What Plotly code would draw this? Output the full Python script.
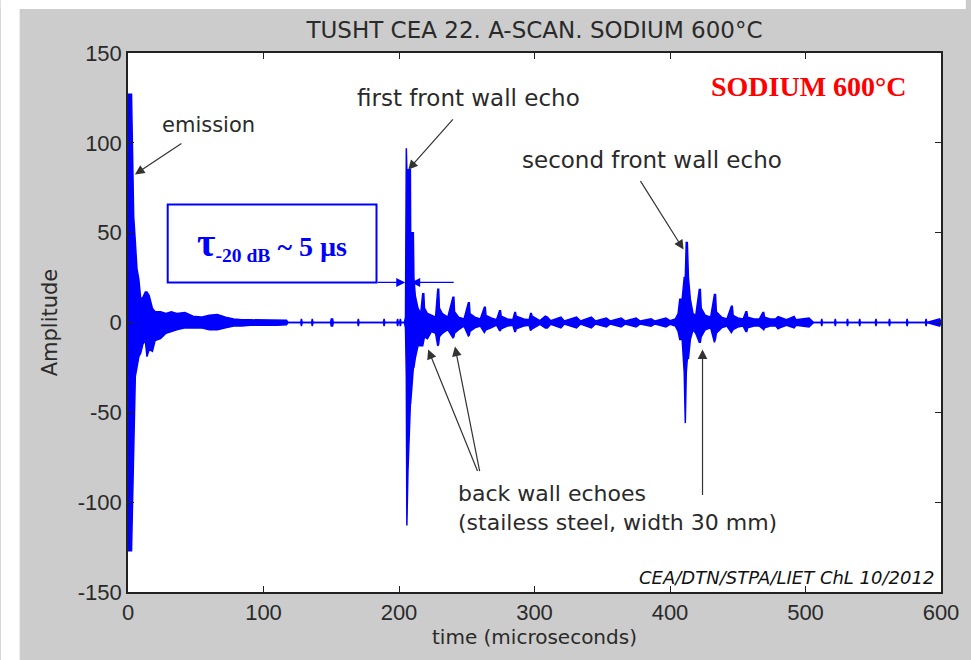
import plotly.graph_objects as go

# ---------------- data ----------------
# A-scan envelope: time (µs), upper and lower amplitude of the trace
time_us = [
    0, 0.2, 2.6, 3.4, 4.2, 5.4, 6.6, 8.0, 9.4, 11, 12.8, 14, 15.6, 18, 20, 24, 28, 32, 36, 42,
    48, 54, 60, 66, 72, 78, 84, 90, 110, 117, 118,
    127.5, 128, 128.5, 135.5, 136, 136.5, 149.5, 150, 151, 151.5, 169.5, 170, 170.5,
    188.5, 189, 189.5, 198.5, 199, 199.5, 200.5, 201, 201.5,
    204, 204.8, 205.4, 205.8, 206.6, 208.4, 208.6, 210.6, 211, 212, 214, 216,
    217.5, 218.3, 218.8, 221, 224, 227,
    228.6, 229.3, 229.8, 232, 236,
    239.8, 240.5, 241, 244, 248,
    251.2, 251.9, 252.4, 256, 260,
    263, 263.7, 264.2, 268, 272,
    274.2, 274.9, 275.4, 280, 284,
    285.4, 286, 286.5, 292, 296,
    297.1, 297.7, 298.3, 304, 308, 309.5, 312,
    319.5, 322, 331, 334, 342, 345, 353, 356, 364, 367, 375, 378, 386, 389, 397, 400, 404,
    406, 407.2, 409, 410.5, 411.3, 412.0, 412.8, 413.6, 415, 417, 419,
    421.6, 422.4, 423, 426, 430,
    432.8, 433.6, 434.2, 438, 442,
    445.3, 446, 446.6, 450, 454,
    456, 456.7, 457.3, 462, 466,
    468.5, 469.2, 469.8, 474, 478,
    479.8, 481, 486, 491.6, 493, 502.6, 504, 506,
    511.5, 512, 512.5, 521.5, 522, 522.5, 530.5, 531, 531.5, 539.5, 540, 540.5,
    551.5, 552, 552.5, 561.5, 562, 562.5, 574.5, 575, 575.5, 588.5, 589, 589.5, 599, 600,
]
upper = [
    0, 127, 127, 100, 59, 45, 30, 24, 13, 14, 17, 17, 15, 8, 6, 6, 5, 6, 5, 5.5,
    3.5, 3, 4, 4.5, 3, 2, 1.5, 1.5, 1.5, 1.2, 0,
    0, 2, 0, 0, 2, 0, 0, 2, 2, 0, 0, 2, 0,
    0, 2, 0, 0, 2, 0, 0, 2, 0,
    0, 3, 97, 85, 85, 85, 50, 50, 25, 15, 8, 5,
    16, 16, 8, 5, 4, 3,
    18.5, 18.5, 8, 5, 3,
    14, 14, 6, 3, 2,
    11, 11, 5, 3, 2,
    8.5, 8.5, 4, 2.5, 1.5,
    6.5, 6.5, 3.5, 2, 1.5,
    5.5, 5.5, 3.5, 2, 1.5,
    5, 5, 3.5, 1, 3.5, 3, 1,
    3, 0.8, 3, 0.8, 3, 0.8, 2.5, 0.8, 2.5, 0.8, 2.5, 0.8, 2, 0.8, 2.5, 1, 2,
    5, 13, 13, 25, 25, 44.5, 44.5, 25, 13, 5, 4,
    18.4, 18.4, 8, 4, 3,
    15.6, 15.6, 6, 3, 2,
    9, 9, 4, 2.5, 2,
    6, 6, 3, 2, 2,
    5.5, 5.5, 3, 2, 2,
    3.3, 3, 1.5, 3.3, 1.5, 2.5, 1.2, 0,
    0, 2, 0, 0, 2, 0, 0, 2, 0, 0, 2, 0,
    0, 2, 0, 0, 2, 0, 0, 2, 0, 0, 2, 0, 2, 0,
]
lower = [
    0, -127, -127, -100, -65, -30, -25, -19, -17, -12, -10, -19, -15, -16, -10, -9, -6, -5, -4, -3,
    -3, -3, -4, -4, -3, -2, -2, -1.5, -1.5, -1.2, 0,
    0, -2, 0, 0, -2, 0, 0, -2, -2, 0, 0, -2, 0,
    0, -2, 0, 0, -2, 0, 0, -2, 0,
    0, -3, -30, -113, -83, -45, -45, -25, -25, -20, -13, -13,
    -13, -10, -8, -9, -5, -6,
    -13, -12, -8, -6, -4,
    -8.5, -8, -6, -4, -2,
    -7.5, -7, -5, -3, -2,
    -5.6, -5, -4, -3, -1.5,
    -4.5, -4.5, -3.5, -2, -1.5,
    -5, -5, -3.5, -2, -1.5,
    -4.5, -4, -3.5, -1, -3, -3, -1,
    -3, -0.8, -3, -0.8, -3, -0.8, -2.5, -0.8, -2.5, -0.8, -2.5, -0.8, -2, -0.8, -2.5, -1, -2,
    -5, -9.5, -9.5, -28, -56, -28, -20, -20, -9.5, -4, -6,
    -11, -11, -8, -4, -3,
    -11, -9, -6, -3, -2,
    -5.6, -5, -4, -2.5, -2,
    -5, -5, -3, -2, -2,
    -4, -4, -3, -2, -2,
    -3.5, -3, -1.5, -3, -1.5, -2.5, -1.2, 0,
    0, -2, 0, 0, -2, 0, 0, -2, 0, 0, -2, 0,
    0, -2, 0, 0, -2, 0, 0, -2, 0, 0, -2, 0, -2, 0,
]

x_ticks = [0, 100, 200, 300, 400, 500, 600]
x_tick_labels = ["0", "100", "200", "300", "400", "500", "600"]
y_ticks = [-150, -100, -50, 0, 50, 100, 150]
y_tick_labels = ["-150", "-100", "-50", "0", "50", "100", "150"]

title_text = "TUSHT CEA 22. A-SCAN. SODIUM 600°C"
x_title = "time (microseconds)"
y_title = "Amplitude"

BLUE = "#0000ff"
TXT = "#2a2a2a"
SANS = "DejaVu Sans"

fig = go.Figure()
fig.add_trace(go.Scatter(x=time_us, y=upper, mode="lines",
                         line=dict(color=BLUE, width=1.5), hoverinfo="skip", showlegend=False))
fig.add_trace(go.Scatter(x=time_us, y=lower, mode="lines", fill="tonexty", fillcolor=BLUE,
                         line=dict(color=BLUE, width=1.5), hoverinfo="skip", showlegend=False))

# plot-area geometry helpers (pixel -> paper)
L, R, T, B = 128, 946, 53, 592
W, H = R - L, B - T
def px(xp):
    return (xp - L) / W
def py(yp):
    return (B - yp) / H

shapes = [
    # white strips outside the grey figure panel
    dict(type="rect", xref="paper", yref="paper", x0=px(0), x1=px(19), y0=py(660), y1=py(0),
         fillcolor="white", line=dict(width=0), layer="above"),
    dict(type="rect", xref="paper", yref="paper", x0=px(0), x1=px(971), y0=py(9), y1=py(0),
         fillcolor="white", line=dict(width=0), layer="above"),
    # tau box
    dict(type="rect", xref="x", yref="y", x0=29.3, x1=183.4, y0=22.3, y1=65.7,
         line=dict(color=BLUE, width=2), fillcolor="rgba(0,0,0,0)"),
]

ann = []
def text_ann(x, y, text, size=22, color=TXT, family=SANS, xanchor="center", align="center"):
    ann.append(dict(x=x, y=y, xref="x", yref="y", text=text, showarrow=False,
                    font=dict(family=family, size=size, color=color),
                    xanchor=xanchor, yanchor="middle", align=align))

def arrow(x, y, ax, ay, color="#333333", width=1.2, head=2, size=1.6):
    ann.append(dict(x=x, y=y, xref="x", yref="y", ax=ax, ay=ay, text="", showarrow=True,
                    arrowhead=head, arrowsize=size, arrowwidth=width, arrowcolor=color))

text_ann(59.4, 110, "emission", size=21)
text_ann(251.5, 124.7, "first front wall echo", size=23)
text_ann(386.6, 90.7, "second front wall echo", size=23)
text_ann(242, -103.5, "back wall echoes<br>(stailess steel, width 30 mm)", size=22,
         xanchor="left", align="left")
text_ann(502.5, 131.3, "<b>SODIUM 600°C</b>", size=28, color="#ff0000",
         family="Liberation Serif, Times New Roman")
text_ann(106.4, 44.5,
         "<b><span style='font-size:40px'>τ</span><sub>-20 dB</sub> ~ 5 µs</b>",
         size=28, color=BLUE, family="Liberation Serif, Times New Roman")
ann.append(dict(x=596, y=-141.9, xref="x", yref="y", text="<i>CEA/DTN/STPA/LIET ChL 10/2012</i>",
                showarrow=False, xanchor="right", yanchor="middle",
                font=dict(family=SANS, size=18, color="#111111")))

arrow(5.1, 82.4, 48, -32)
arrow(206.8, 85, 46, -52)
arrow(410, 40.6, -44, -70)
arrow(221.5, -15, 50, 123)
arrow(241.3, -13.4, 25, 126)
arrow(424, -15, 0, 147)
# blue tau arrows
arrow(204.6, 22.3, -29, 0, color=BLUE, width=1.2, head=2, size=1.5)
arrow(209.0, 22.3, 44, 0, color=BLUE, width=1.2, head=2, size=1.5)

axis_common = dict(showgrid=False, zeroline=False, showline=True, linecolor="#222222", linewidth=1.5,
                   mirror="ticks", ticks="inside", ticklen=6, tickcolor="#222222",
                   tickfont=dict(family="Arial", size=22, color=TXT))

fig.update_layout(
    width=971, height=660,
    margin=dict(l=L, r=971 - R, t=T, b=660 - B),
    paper_bgcolor="#cccccc", plot_bgcolor="white",
    title=dict(text=title_text, x=0.5, xref="paper", y=1 - 30 / 660, yref="container",
               xanchor="center", yanchor="middle", font=dict(family=SANS, size=23, color=TXT)),
    xaxis=dict(range=[0, 600], tickvals=x_ticks, ticktext=x_tick_labels,
               title=dict(text=x_title, standoff=6, font=dict(family=SANS, size=20, color=TXT)),
               **axis_common),
    yaxis=dict(range=[-150, 150], tickvals=y_ticks, ticktext=y_tick_labels,
               title=dict(text=y_title, standoff=14, font=dict(family=SANS, size=21, color=TXT)),
               **axis_common),
    shapes=shapes, annotations=ann, showlegend=False,
)

fig.write_html("out.html")
